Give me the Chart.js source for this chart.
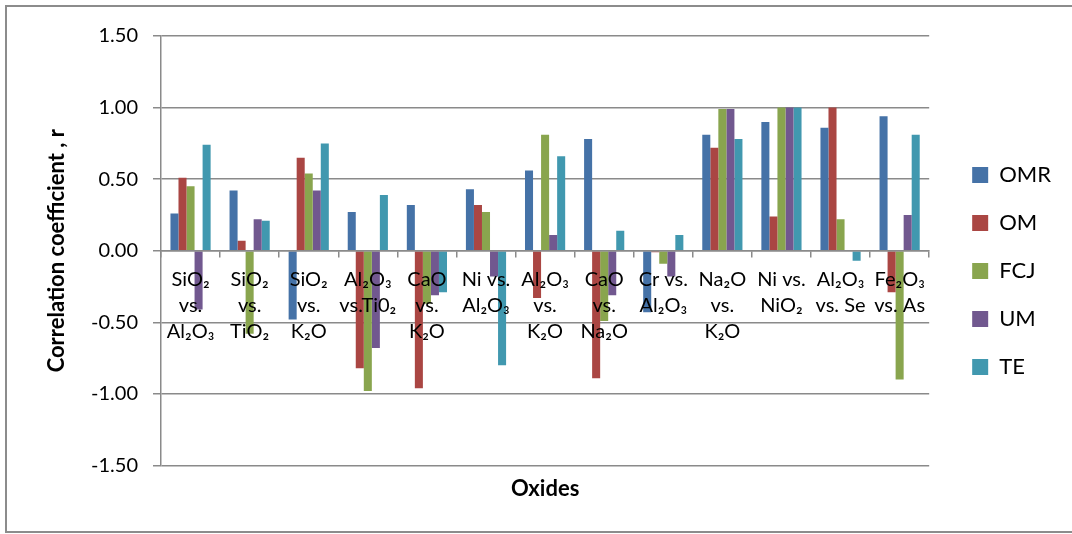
<!DOCTYPE html>
<html>
<head>
<meta charset="utf-8">
<script src="https://cdn.jsdelivr.net/npm/chart.js@4"></script>
<style>
  html, body { margin: 0; padding: 0; background: #fff; overflow: hidden; }
  #frame {
    position: absolute; left: 5px; top: 5px; width: 1100px; height: 528px;
    border: 2px solid #8c8c8c; box-sizing: border-box;
  }
  #chart { position: absolute; left: 0; top: 0; }
</style>
</head>
<body>
<div id="frame"></div>
<canvas id="chart" width="1072" height="534"></canvas>
<script>
// Oxide pairs (each label is split into lines)
const categories = [
  ['SiO₂', 'vs.', 'Al₂O₃'],
  ['SiO₂', 'vs.', 'TiO₂'],
  ['SiO₂', 'vs.', 'K₂O'],
  ['Al₂O₃', 'vs.Ti0₂'],
  ['CaO', 'vs.', 'K₂O'],
  ['Ni vs.', 'Al₂O₃'],
  ['Al₂O₃', 'vs.', 'K₂O'],
  ['CaO', 'vs.', 'Na₂O'],
  ['Cr vs.', 'Al₂O₃'],
  ['Na₂O', 'vs.', 'K₂O'],
  ['Ni vs.', 'NiO₂'],
  ['Al₂O₃', 'vs. Se'],
  ['Fe₂O₃', 'vs. As']
];

// Correlation coefficients r per rock group
const omr = [0.26, 0.42, -0.48, 0.27, 0.32, 0.43, 0.56, 0.78, -0.43, 0.81, 0.90, 0.86, 0.94];
const om  = [0.51, 0.07, 0.65, -0.82, -0.96, 0.32, -0.33, -0.89, -0.01, 0.72, 0.24, 1.00, -0.29];
const fcj = [0.45, -0.58, 0.54, -0.98, -0.37, 0.27, 0.81, -0.49, -0.09, 0.99, 1.00, 0.22, -0.90];
const um  = [-0.41, 0.22, 0.42, -0.68, -0.31, -0.18, 0.11, -0.31, -0.18, 0.99, 1.00, 0, 0.25];
const te  = [0.74, 0.21, 0.75, 0.39, -0.29, -0.80, 0.66, 0.14, 0.11, 0.78, 1.00, -0.07, 0.81];

// Value axis ticks
const yTickValues = [-1.5, -1.0, -0.5, 0, 0.5, 1.0, 1.5];

const FONT = "Lato, 'Open Sans', 'Noto Sans', sans-serif";
const GRID = '#8a8a8a';

const series = [
  { label: 'OMR', data: omr, color: '#4572A7' },
  { label: 'OM',  data: om,  color: '#AA4643' },
  { label: 'FCJ', data: fcj, color: '#89A54E' },
  { label: 'UM',  data: um,  color: '#71588F' },
  { label: 'TE',  data: te,  color: '#4198AF' }
];

new Chart(document.getElementById('chart'), {
  type: 'bar',
  data: {
    labels: categories,
    datasets: series.map(s => ({
      label: s.label,
      data: s.data,
      backgroundColor: s.color,
      borderWidth: 0,
      categoryPercentage: 0.68,
      barPercentage: 1.0
    }))
  },
  options: {
    responsive: false,
    animation: false,
    layout: { padding: { left: 0, top: 36, right: 11, bottom: 28 } },
    plugins: {
      tooltip: { enabled: false },
      legend: {
        position: 'right',
        align: 'center',
        labels: {
          boxWidth: 16,
          boxHeight: 16,
          padding: 26,
          color: '#000',
          font: { family: FONT, size: 22 }
        }
      }
    },
    scales: {
      x: {
        type: 'category',
        position: { y: 0 },
        grid: {
          offset: true,
          drawOnChartArea: false,
          drawTicks: true,
          tickLength: 6,
          color: GRID,
          lineWidth: 1.5,
          z: 1
        },
        border: { display: true, color: GRID, width: 1.5, z: 1 },
        ticks: {
          z: 2,
          autoSkip: false,
          maxRotation: 0,
          minRotation: 0,
          padding: 10,
          color: '#000',
          font: { family: FONT, size: 20, lineHeight: 1.3 }
        }
      },
      x2: {
        type: 'category',
        labels: categories,
        position: 'bottom',
        grid: { display: false },
        border: { display: false },
        ticks: { display: false },
        title: {
          display: true,
          text: 'Oxides',
          color: '#000',
          font: { family: FONT, size: 22, weight: 'bold' },
          padding: { top: 0, bottom: 4 }
        },
        afterFit: s => { s.height = 40.5; }
      },
      y: {
        min: -1.5,
        max: 1.5,
        afterBuildTicks: axis => { axis.ticks = yTickValues.map(v => ({ value: v })); },
        afterFit: s => { s.width = 161; },
        grid: { color: GRID, lineWidth: 1.5, tickLength: 8 },
        border: { display: true, color: GRID, width: 1.5 },
        ticks: {
          padding: 15,
          color: '#000',
          font: { family: FONT, size: 20 },
          callback: v => Number(v).toFixed(2)
        },
        title: {
          display: true,
          text: 'Correlation coefficient , r',
          color: '#000',
          font: { family: FONT, size: 22, weight: 'bold' },
          padding: { top: 44, bottom: 0 }
        }
      },
      yR: {
        position: 'right',
        grid: { display: false },
        border: { display: false },
        ticks: { display: false },
        afterFit: s => { s.width = 17; }
      }
    }
  }
});
</script>
</body>
</html>
